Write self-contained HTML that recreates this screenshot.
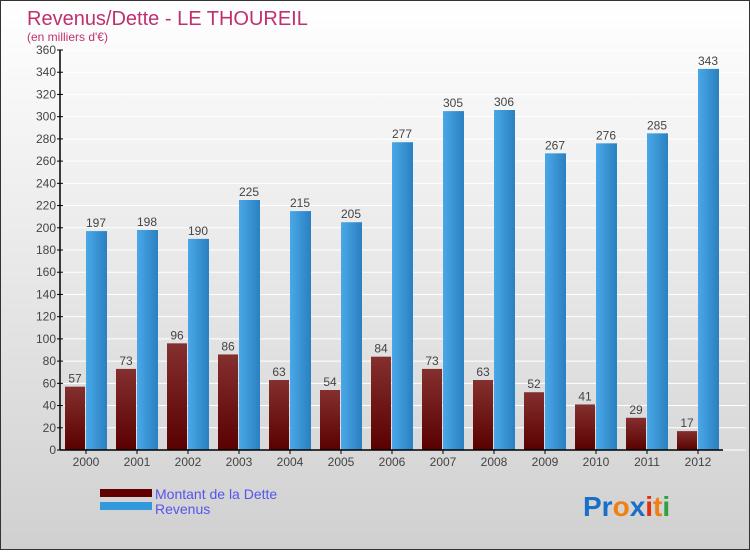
<!DOCTYPE html>
<html><head><meta charset="utf-8">
<style>
body{margin:0;width:750px;height:550px;overflow:hidden;font-family:"Liberation Sans",sans-serif;}
#wrap{position:relative;width:748px;height:548px;border:1px solid #333;background:linear-gradient(#ffffff,#d0d0d0);}
</style></head>
<body>
<div id="wrap">
<svg id="chart" width="748" height="548" xmlns="http://www.w3.org/2000/svg">
<defs>
<linearGradient id="gD" x1="0" y1="0" x2="0" y2="1"><stop offset="0" stop-color="#84302f"/><stop offset="1" stop-color="#5a0000"/></linearGradient>
<linearGradient id="gR" x1="0" y1="0" x2="1" y2="0"><stop offset="0" stop-color="#4aa8e8"/><stop offset="1" stop-color="#2a80c0"/></linearGradient>
</defs>
<text x="26" y="24" font-size="20" fill="#c03070">Revenus/Dette - LE THOUREIL</text>
<text x="26" y="40" font-size="12" fill="#c03070">(en milliers d'€)</text>
<g id="grid"></g><g id="bars"></g><g id="axes"></g>
<g>
<rect x="99" y="488" width="52" height="8" fill="#600000"/>
<rect x="99" y="501" width="52" height="8" fill="#3399dd"/>
<text x="154" y="498" font-size="14" fill="#5555ee">Montant de la Dette</text>
<text x="154" y="513" font-size="14" fill="#5555ee">Revenus</text>
</g>
<text x="582" y="515" font-size="28" font-weight="bold"><tspan fill="#1a70c8">Pr</tspan><tspan fill="#f08010">o</tspan><tspan fill="#1a70c8">x</tspan><tspan fill="#e03010">i</tspan><tspan fill="#f08010">t</tspan><tspan fill="#30a040">i</tspan></text>
</svg>
</div>
<script>
const years=["2000","2001","2002","2003","2004","2005","2006","2007","2008","2009","2010","2011","2012"];
const dette=[57,73,96,86,63,54,84,73,63,52,41,29,17];
const revenus=[197,198,190,225,215,205,277,305,306,267,276,285,343];
const yTicks=[0,20,40,60,80,100,120,140,160,180,200,220,240,260,280,300,320,340,360];
const NS="http://www.w3.org/2000/svg";
const y0=449,pxPer=400/360,x0=59,step=51,first=84;
const yS=v=>y0-v*pxPer, xS=i=>first+i*step;
function mk(tag,attrs,parent){const e=document.createElementNS(NS,tag);for(const k in attrs)e.setAttribute(k,attrs[k]);parent.appendChild(e);return e;}
const grid=document.getElementById('grid'),bars=document.getElementById('bars'),axes=document.getElementById('axes');
yTicks.forEach(t=>{
 const g=mk('line',{x1:x0,x2:745,y1:yS(t),y2:yS(t),stroke:'#ffffff','stroke-width':1},grid);
 
 
 const tk=mk('line',{x1:x0-3,x2:x0+3,y1:yS(t),y2:yS(t),stroke:'#000'},axes);
 
 
 const tx=mk('text',{x:x0-4,y:yS(t)+4,'font-size':12,fill:'#444','text-anchor':'end'},axes);
 tx.textContent=t;
 
 
});
years.forEach((yr,i)=>{
 const cx=xS(i);
 const d=mk('rect',{x:cx-20,y:yS(dette[i]),width:20,height:dette[i]*pxPer,fill:'url(#gD)'},bars);
 
 
 const r=mk('rect',{x:cx+1,y:yS(revenus[i]),width:21,height:revenus[i]*pxPer,fill:'url(#gR)'},bars);
 
 
 const dl=mk('text',{x:cx-10,y:yS(dette[i])-4,'font-size':12,fill:'#444','text-anchor':'middle'},bars);
 dl.textContent=dette[i];
 
 
 const rl=mk('text',{x:cx+11,y:yS(revenus[i])-4,'font-size':12,fill:'#444','text-anchor':'middle'},bars);
 rl.textContent=revenus[i];
 
 
 const xt=mk('line',{x1:cx+1,x2:cx+1,y1:y0,y2:y0+4,stroke:'#000'},axes);
 
 
 const xl=mk('text',{x:cx+1,y:y0+16,'font-size':12,fill:'#444','text-anchor':'middle'},axes);
 xl.textContent=yr;
 
 
});
const ya=mk('line',{x1:x0,x2:x0,y1:yS(360),y2:y0,stroke:'#000','stroke-width':1.5},axes);


const xa=mk('line',{x1:x0,x2:722,y1:y0,y2:y0,stroke:'#000','stroke-width':1.5},axes);


</script>
</body></html>
